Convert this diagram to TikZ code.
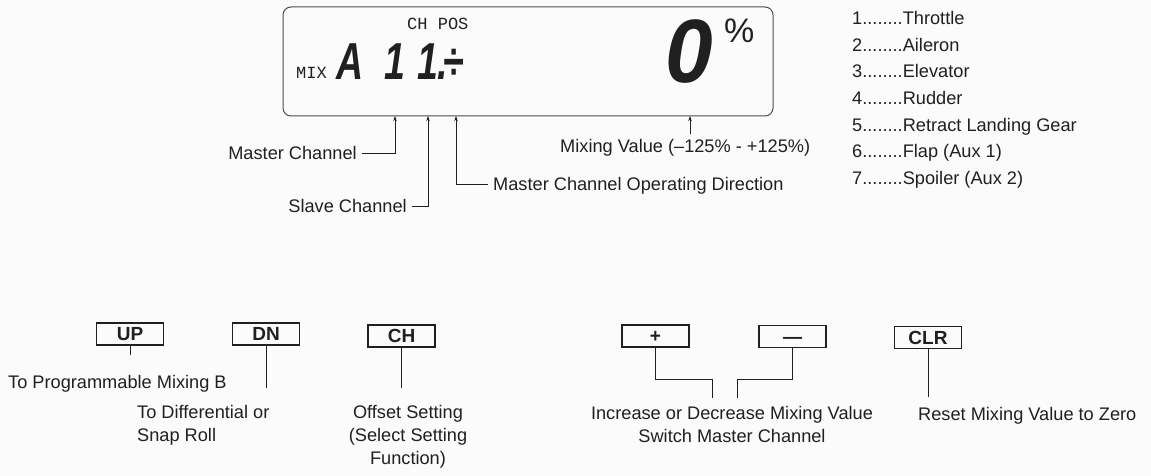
\documentclass[tikz,border=0pt]{standalone}
\usepackage{fontspec}
\setmainfont{Liberation Sans}
\newfontfamily\lcdseg{Liberation Sans}
\newfontfamily\lcdsmall{Liberation Mono}
\usepackage{tikz}
\usetikzlibrary{arrows.meta}
\definecolor{inkc}{RGB}{32,32,32}
\definecolor{paperc}{RGB}{251,251,251}
\newcommand{\lblsize}{\fontsize{18.2}{23}\selectfont}

\begin{document}
\begin{tikzpicture}[x=1pt,y=-1pt,>={Stealth[length=5pt,width=3.5pt]},
  lbl/.style={font=\lblsize,text=inkc,inner sep=5pt,text height=13pt,text depth=0pt},
  mlbl/.style={font=\lblsize,text=inkc,inner sep=5pt},
  segtxt/.style={font=\lcdseg\bfseries\itshape\fontsize{52}{52}\selectfont,xscale=0.72,text=inkc,inner sep=0pt,anchor=base west},
  keybox/.style={draw=inkc,line width=1.3pt,minimum width=67pt,minimum height=22pt,inner sep=0pt,
    font=\bfseries\fontsize{19}{19}\selectfont,text=inkc,text height=13.6pt,text depth=0pt},
  lead/.style={draw=inkc,line width=0.8pt}]
  \fill[paperc] (0,0) rectangle (1151,476);
  \useasboundingbox (0,0) rectangle (1151,476);
  % display
  \node[draw=inkc!80,line width=1pt,rounded corners=8pt,minimum width=490pt,minimum height=109pt] (lcd) at (528,61.5) {};
  \node[font=\lcdsmall\fontsize{17}{17}\selectfont,text=inkc,inner sep=0pt,anchor=base west] (chpos) at (407,30) {CH POS};
  \node[font=\lcdsmall\fontsize{17}{17}\selectfont,text=inkc,inner sep=0pt,anchor=base west] (mix) at (296,79) {MIX};
  \foreach \n/\t/\x in {segA/A/336,segB/1/384,segC/1./417,segD/÷/443}
    \node[segtxt] (\n) at (\x,80) {\t};
  \node[segtxt,font=\lcdseg\bfseries\itshape\fontsize{90}{90}\selectfont,xscale=0.95/0.72] (zero) at (665,83) {0};
  \node[font=\fontsize{34}{34}\selectfont,text=inkc,inner sep=0pt,anchor=base west] (pct) at (724,43) {\%};
  \coordinate (mcTip) at (395,116);
  \coordinate (svTip) at (428,116);
  \coordinate (odTip) at (456,116);
  \coordinate (mvTip) at (690,116);
  % labels under the display
  \node[lbl,anchor=east] (mcl) at (362,153) {Master Channel};
  \node[lbl,anchor=east] (svl) at (412,206) {Slave Channel};
  \node[lbl,anchor=west] (odl) at (488,184) {Master Channel Operating Direction};
  \node[lbl,anchor=west] (mvl) at (555,146) {Mixing Value (–125\% - +125\%)};
  \draw[lead,->] (mcl.east) -| (mcTip);
  \draw[lead,->] (svl.east) -| (svTip);
  \draw[lead,->] (odl.west) -| (odTip);
  \draw[lead,->] (mvTip |- mvl.north) -- (mvTip);
  % channel list
  \foreach \i/\t in {1/Throttle,2/Aileron,3/Elevator,4/Rudder,5/Retract Landing Gear,6/Flap (Aux 1),7/Spoiler (Aux 2)}
    \node[lbl,anchor=west] (chan\i) at (847,{18+26.67*(\i-1)}) {\i........\t};
  % keys
  \foreach \k/\t/\x/\y in {upkey/UP/130/334,dnkey/DN/266/334,chkey/CH/401.5/336,pluskey/+/655.5/336,minuskey/—/792.5/336.5,clrkey/CLR/928/337.5}
    \node[keybox] (\k) at (\x,\y) {\t};
  \node[lbl,anchor=west] (upl) at (3,382) {To Programmable Mixing B};
  \node[mlbl,align=left,anchor=north west] (dnl) at (132,400) {To Differential or\\Snap Roll};
  \node[mlbl,align=center,anchor=north] (chl) at (408,400) {Offset Setting\\(Select Setting\\Function)};
  \node[mlbl,align=center,anchor=north] (pml) at (732,401.5) {Increase or Decrease Mixing Value\\Switch Master Channel};
  \node[lbl,anchor=west] (clrl) at (913,414) {Reset Mixing Value to Zero};
  \coordinate (plusBend) at (712,379);
  \coordinate (minusBend) at (737,379);
  \draw[lead,shorten >=15.5pt] (upkey.south) -- (upkey.south |- upl.north);
  \draw[lead,shorten >=12pt] (dnkey.south) -- (dnkey.south |- dnl.north);
  \draw[lead,shorten >=12pt] (chkey.south) -- (chkey.south |- chl.north);
  \draw[lead,shorten >=3.5pt] (pluskey.south) |- (plusBend) -- (plusBend |- pml.north);
  \draw[lead,shorten >=3.5pt] (minuskey.south) |- (minusBend) -- (minusBend |- pml.north);
  \draw[lead,shorten >=5.5pt] (clrkey.south) -- (clrkey.south |- clrl.north);
\end{tikzpicture}
\end{document}
